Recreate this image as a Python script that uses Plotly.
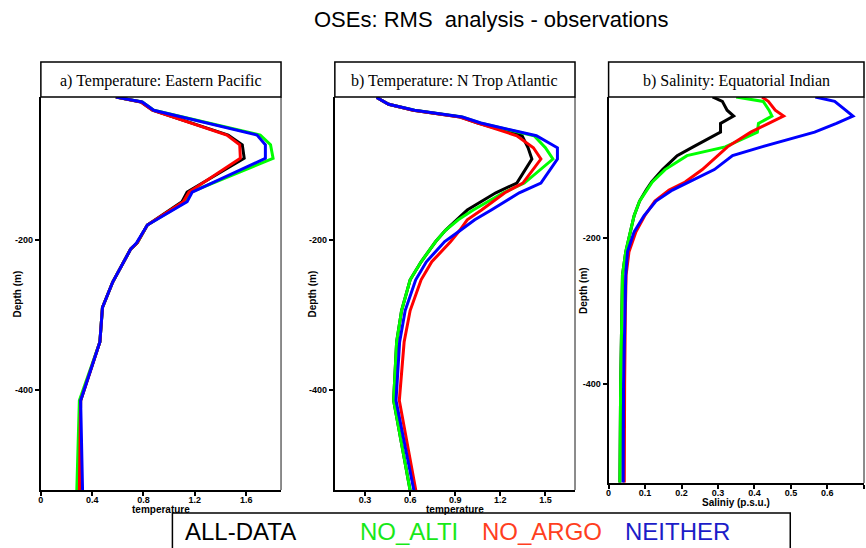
import plotly.graph_objects as go

W, H = 866, 548

# Experiment names and colours
SERIES = ["ALL-DATA", "NO_ALTI", "NO_ARGO", "NEITHER"]
LINE_COLORS = ["#000000", "#00ff00", "#ff0000", "#0000ff"]
LABEL_COLORS = ["#000000", "#18e818", "#ff3f1f", "#1c1cc8"]

# a) Temperature RMS, Eastern Pacific (depth in m)
depth_ep = [9.5, 16, 27, 60, 73, 91, 136, 149, 180, 204, 212, 256, 290, 336, 414, 534]
ep_all = [0.585, 0.78, 0.87, 1.46, 1.57, 1.585, 1.14, 1.10, 0.83, 0.75, 0.70, 0.56, 0.48, 0.46, 0.31, 0.30]
ep_noalti = [0.585, 0.79, 0.88, 1.71, 1.79, 1.81, 1.17, 1.13, 0.83, 0.75, 0.70, 0.56, 0.48, 0.46, 0.30, 0.28]
ep_noargo = [0.585, 0.78, 0.87, 1.45, 1.55, 1.555, 1.155, 1.11, 0.83, 0.75, 0.70, 0.56, 0.48, 0.46, 0.31, 0.30]
ep_neither = [0.585, 0.79, 0.88, 1.685, 1.75, 1.75, 1.18, 1.14, 0.83, 0.745, 0.70, 0.56, 0.48, 0.46, 0.31, 0.325]

# b) Temperature RMS, N Trop Atlantic
depth_na = [10, 19, 27, 36, 44, 61, 77, 92, 124, 137, 160, 173, 187, 202, 229, 253, 294, 336, 414, 534]
na_all = [0.377, 0.457, 0.62, 0.935, 1.05, 1.345, 1.385, 1.41, 1.31, 1.17, 0.98, 0.91, 0.835, 0.77, 0.673, 0.60, 0.543, 0.51, 0.49, 0.60]
na_noalti = [0.377, 0.457, 0.63, 0.945, 1.065, 1.425, 1.50, 1.55, 1.36, 1.22, 1.02, 0.92, 0.835, 0.77, 0.673, 0.60, 0.543, 0.51, 0.49, 0.60]
na_noargo = [0.377, 0.457, 0.62, 0.93, 1.05, 1.31, 1.42, 1.47, 1.35, 1.23, 1.075, 0.98, 0.93, 0.87, 0.744, 0.673, 0.60, 0.56, 0.528, 0.638]
na_neither = [0.377, 0.457, 0.63, 0.948, 1.07, 1.44, 1.58, 1.58, 1.47, 1.326, 1.14, 1.03, 0.935, 0.83, 0.708, 0.637, 0.567, 0.53, 0.506, 0.625]

# c) Salinity RMS, Equatorial Indian
depth_ei = [8, 14, 26, 34, 44, 56, 76, 88, 107, 124, 135, 150, 170, 192, 219, 251, 300, 400, 534]
ei_all = [0.285, 0.312, 0.325, 0.343, 0.307, 0.307, 0.232, 0.188, 0.148, 0.118, 0.103, 0.085, 0.07, 0.059, 0.047, 0.038, 0.036, 0.033, 0.031]
ei_noalti = [0.35, 0.424, 0.44, 0.448, 0.411, 0.408, 0.32, 0.215, 0.155, 0.12, 0.105, 0.085, 0.07, 0.059, 0.047, 0.038, 0.036, 0.033, 0.031]
ei_noargo = [0.421, 0.438, 0.457, 0.48, 0.439, 0.39, 0.326, 0.30, 0.257, 0.21, 0.166, 0.127, 0.099, 0.075, 0.056, 0.048, 0.046, 0.044, 0.043]
ei_neither = [0.567, 0.62, 0.65, 0.67, 0.625, 0.565, 0.42, 0.34, 0.29, 0.22, 0.175, 0.13, 0.097, 0.07, 0.052, 0.047, 0.045, 0.041, 0.04]

# Tick labels
ticks_ep = [0, 0.4, 0.8, 1.2, 1.6]
ticks_na = [0.3, 0.6, 0.9, 1.2, 1.5]
ticks_ei = [0, 0.1, 0.2, 0.3, 0.4, 0.5, 0.6, 0.7]
depth_ticks = [-200, -400]

panels = [
    dict(title="a) Temperature: Eastern Pacific", xlabel="temperature",
         depth=depth_ep, data=[ep_all, ep_noalti, ep_noargo, ep_neither],
         ticks=ticks_ep, xdom=(38, 279), xr=[0, 1.872], ybot=490, yr=[-533.3, -9.3],
         ylab_x=15, xlab_y=509),
    dict(title="b) Temperature: N Trop Atlantic", xlabel="temperature",
         depth=depth_na, data=[na_all, na_noalti, na_noargo, na_neither],
         ticks=ticks_na, xdom=(333, 574), xr=[0.099, 1.697], ybot=490, yr=[-533.3, -9.3],
         ylab_x=311, xlab_y=509),
    dict(title="b) Salinity: Equatorial Indian", xlabel="Saliniy (p.s.u.)",
         depth=depth_ei, data=[ei_all, ei_noalti, ei_noargo, ei_neither],
         ticks=ticks_ei, xdom=(607.7, 864), xr=[0, 0.7005], ybot=483, yr=[-534.6, -8],
         ylab_x=582, xlab_y=502),
]

PLOT_TOP = 97
TITLE_TOP = 62

fig = go.Figure()
tick_font = dict(family="Liberation Sans, Arial", size=9, color="black")
layout = dict(width=W, height=H, margin=dict(l=0, r=0, t=0, b=0), autosize=False,
              paper_bgcolor="white", plot_bgcolor="white", showlegend=False)
shapes, annotations = [], []

for i, p in enumerate(panels, start=1):
    sfx = "" if i == 1 else str(i)
    xa, ya = "x" + sfx, "y" + sfx
    neg_depth = [-d for d in p["depth"]]
    for name, vals, col in zip(SERIES, p["data"], LINE_COLORS):
        fig.add_trace(go.Scatter(x=vals, y=neg_depth, mode="lines", name=name,
                                 line=dict(color=col, width=3), xaxis=xa, yaxis=ya,
                                 hoverinfo="skip"))
    layout["xaxis" + sfx] = dict(
        domain=[p["xdom"][0] / W, p["xdom"][1] / W], range=p["xr"], anchor=ya,
        tickvals=p["ticks"], ticktext=[f"<b>{t:g}</b>" for t in p["ticks"]],
        ticks="outside", ticklen=4, tickwidth=1.5, tickcolor="black",
        ticklabelstandoff=-4,
        showline=True, linecolor="black", linewidth=2, showgrid=False, zeroline=False,
        tickfont=tick_font, fixedrange=True)
    layout["yaxis" + sfx] = dict(
        domain=[1 - p["ybot"] / H, 1 - PLOT_TOP / H], range=p["yr"], anchor=xa,
        tickvals=depth_ticks, ticktext=[f"<b>{t}</b>" for t in depth_ticks],
        ticks="outside", ticklen=4, tickwidth=1.5, tickcolor="black",
        showline=True, linecolor="black", linewidth=2, showgrid=False, zeroline=False,
        tickfont=tick_font, fixedrange=True)
    # right-hand frame edge
    shapes.append(dict(type="line", xref=xa + " domain", yref=ya + " domain",
                       x0=1, x1=1, y0=0, y1=1, line=dict(color="#666666", width=1.5)))
    # title box above each panel
    shapes.append(dict(type="rect", xref=xa + " domain", yref="paper",
                       x0=0, x1=1, y0=1 - PLOT_TOP / H, y1=1 - TITLE_TOP / H,
                       line=dict(color="black", width=1.5), fillcolor="white"))
    annotations.append(dict(text=p["title"], xref=xa + " domain", yref="paper",
                            x=0.5, y=1 - 81 / H, xanchor="center", yanchor="middle",
                            showarrow=False,
                            font=dict(family="Liberation Serif, Times New Roman", size=16, color="black")))
    annotations.append(dict(text="<b>" + p["xlabel"] + "</b>", xref=xa + " domain", yref="paper",
                            x=0.5, y=1 - p["xlab_y"] / H, xanchor="center", yanchor="middle",
                            showarrow=False,
                            font=dict(family="Liberation Sans, Arial", size=10, color="black")))
    annotations.append(dict(text="<b>Depth (m)</b>", xref="paper", yref=ya + " domain",
                            x=p["ylab_x"] / W, y=0.5, xanchor="center", yanchor="middle",
                            textangle=-90, showarrow=False,
                            font=dict(family="Liberation Sans, Arial", size=10, color="black")))

# main title
annotations.append(dict(text="OSEs: RMS\u00a0 analysis - observations", xref="paper", yref="paper",
                        x=490 / W, y=1 - 20 / H, xanchor="center", yanchor="middle", showarrow=False,
                        font=dict(family="Liberation Sans, Arial", size=22, color="black")))

# legend box with coloured experiment names
shapes.append(dict(type="rect", xref="paper", yref="paper", x0=170 / W, x1=790 / W,
                   y0=-0.05, y1=1 - 513 / H, line=dict(color="black", width=1.5)))
legend_x = [181, 356, 479, 622]
for name, col, lx in zip(SERIES, LABEL_COLORS, legend_x):
    annotations.append(dict(text=name, xref="paper", yref="paper", x=lx / W, y=1 - 531 / H,
                            xanchor="left", yanchor="middle", showarrow=False,
                            font=dict(family="Liberation Sans, Arial", size=24, color=col)))

layout["shapes"] = shapes
layout["annotations"] = annotations
fig.update_layout(**layout)
fig.write_html("out.html")
